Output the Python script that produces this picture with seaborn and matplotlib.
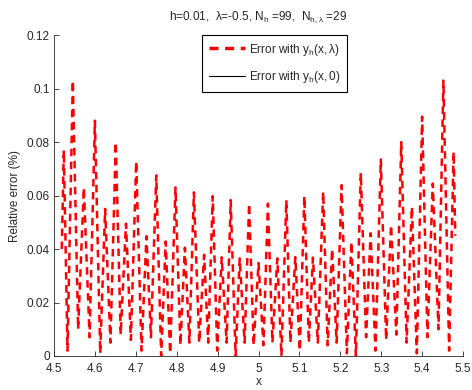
import numpy as np
import pandas as pd
import seaborn as sns
import matplotlib.pyplot as plt
from matplotlib.lines import Line2D
from matplotlib.ticker import FuncFormatter

# vertices of the oscillating error curve
x_left = [4.519, 4.524, 4.533, 4.546, 4.559, 4.573, 4.587, 4.600, 4.613, 4.625,
          4.638, 4.651, 4.663, 4.676, 4.688, 4.701, 4.714, 4.726, 4.737, 4.750,
          4.762, 4.773, 4.784, 4.797, 4.809, 4.820, 4.831, 4.842, 4.855, 4.867,
          4.877, 4.888, 4.899, 4.910, 4.922, 4.932, 4.944, 4.954, 4.966, 4.977,
          4.988, 5.000]
err_left = [0.040, 0.077, 0.002, 0.103, 0.010, 0.063, 0.007, 0.088, 0.001, 0.055,
            0.005, 0.080, 0.008, 0.0495, 0.006, 0.0728, 0.002, 0.0448, 0.007, 0.0675,
            0.000, 0.0428, 0.001, 0.063, 0.004, 0.0405, 0.005, 0.0612, 0.005, 0.0378,
            0.005, 0.0598, 0.002, 0.0369, 0.005, 0.0583, 0.000, 0.0365, 0.005, 0.057,
            0.004, 0.0348]
x_right = [5.012, 5.023, 5.034, 5.046, 5.056, 5.068, 5.078, 5.090, 5.101, 5.112,
           5.123, 5.133, 5.145, 5.158, 5.169, 5.180, 5.191, 5.203, 5.216, 5.227,
           5.238, 5.250, 5.263, 5.274, 5.286, 5.299, 5.312, 5.324, 5.337, 5.349,
           5.362, 5.375, 5.387, 5.400, 5.413, 5.426, 5.440, 5.452, 5.466, 5.477,
           5.481]
err_right = [0.004, 0.057, 0.005, 0.0365, 0.000, 0.0583, 0.005, 0.037, 0.002, 0.0598,
             0.005, 0.0368, 0.005, 0.0614, 0.004, 0.040, 0.005, 0.0639, 0.001, 0.0427,
             0.000, 0.0685, 0.007, 0.0459, 0.002, 0.0735, 0.006, 0.049, 0.008, 0.080,
             0.005, 0.0558, 0.001, 0.0895, 0.007, 0.0645, 0.010, 0.103, 0.002, 0.0764,
             0.045]

df = pd.DataFrame({'x': x_left + x_right, 'err': err_left + err_right})

x_ticks = [4.5, 4.6, 4.7, 4.8, 4.9, 5.0, 5.1, 5.2, 5.3, 5.4, 5.5]
y_ticks = [0, 0.02, 0.04, 0.06, 0.08, 0.1, 0.12]

sns.set_style('ticks')
plt.rcParams['font.family'] = ['Liberation Sans', 'DejaVu Sans']
plt.rcParams['mathtext.default'] = 'regular'
fs = 8.5

fig = plt.figure(figsize=(4.72, 3.90), dpi=100)
ax = fig.add_axes([0.1144, 0.0872, 0.8666, 0.8228])

sns.lineplot(data=df, x='x', y='err', sort=False, color='red',
             linewidth=1.8, linestyle='--', ax=ax)
ax.lines[0].set_dashes([3, 2.2])

ax.set_xlim(4.5, 5.5)
ax.set_ylim(0, 0.12)
ax.set_xticks(x_ticks)
ax.set_yticks(y_ticks)
fmt = FuncFormatter(lambda v, p: '%g' % round(v, 3))
ax.xaxis.set_major_formatter(fmt)
ax.yaxis.set_major_formatter(fmt)
ax.tick_params(direction='in', length=3.5, width=0.6, labelsize=fs)
ax.tick_params(axis='x', pad=5)
ax.tick_params(axis='y', pad=3)
for s in ['left', 'bottom']:
    ax.spines[s].set_linewidth(0.6)
sns.despine(ax=ax)

ax.set_xlabel('x', fontsize=fs, labelpad=0.5)
ax.set_ylabel('Relative error (%)', fontsize=fs, labelpad=4)
ax.set_title(r'h=0.01,  $\lambda$=-0.5, N$_h$ =99,  N$_{h,\lambda}$ =29',
             fontsize=fs, pad=11)

handles = [Line2D([], [], color='red', linewidth=2.5, dashes=[2.6, 1.9]),
           Line2D([], [], color='black', linewidth=0.8)]
leg = ax.legend(handles, [r'Error with $y_h(x,\lambda)$', r'Error with $y_h(x,0)$'],
                loc='upper left', bbox_to_anchor=(0.362, 1.0), borderaxespad=0,
                fancybox=False, framealpha=1, edgecolor='black', fontsize=fs,
                handlelength=3.1, handletextpad=0.3, labelspacing=1.0,
                borderpad=0.55)
leg.get_frame().set_linewidth(0.8)

fig.savefig('out.png', dpi=100)
